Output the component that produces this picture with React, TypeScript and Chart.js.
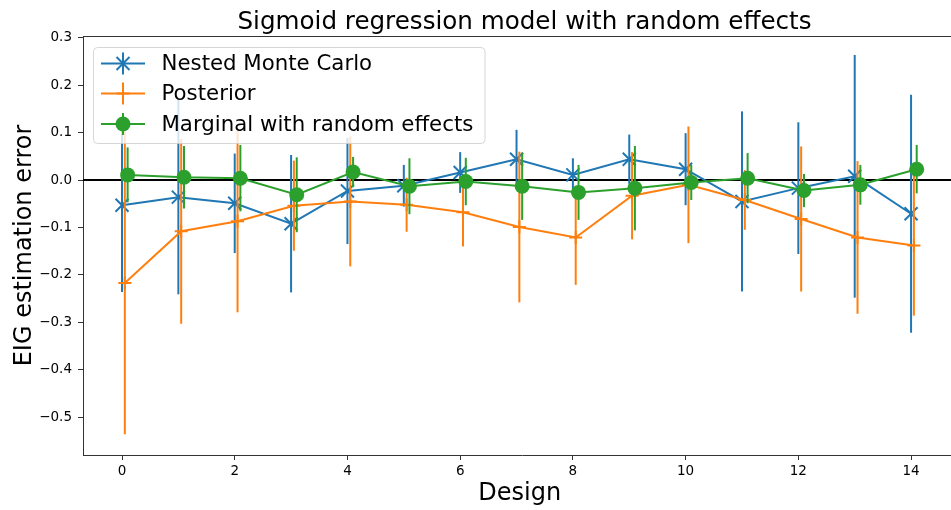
import React, { useEffect, useRef } from "react";
import { Chart, registerables } from "chart.js";

Chart.register(...registerables);

const designs = [0, 1, 2, 3, 4, 5, 6, 7, 8, 9, 10, 11, 12, 13, 14];
const nmcMean = [-0.053, -0.036, -0.049, -0.092, -0.023, -0.012, 0.016, 0.044, 0.011, 0.044, 0.023, -0.045, -0.017, 0.008, -0.071];
const nmcErr = [0.183, 0.205, 0.105, 0.145, 0.112, 0.044, 0.043, 0.062, 0.035, 0.052, 0.076, 0.19, 0.139, 0.256, 0.251];
const postMean = [-0.217, -0.108, -0.087, -0.054, -0.045, -0.052, -0.068, -0.099, -0.121, -0.033, -0.01, -0.042, -0.082, -0.121, -0.138];
const postErr = [0.319, 0.195, 0.192, 0.095, 0.137, 0.057, 0.072, 0.159, 0.1, 0.092, 0.123, 0.063, 0.153, 0.161, 0.148];
const margMean = [0.011, 0.006, 0.004, -0.031, 0.017, -0.013, -0.003, -0.013, -0.026, -0.017, -0.005, 0.004, -0.022, -0.01, 0.023];
const margErr = [0.058, 0.066, 0.07, 0.079, 0.032, 0.059, 0.05, 0.071, 0.058, 0.089, 0.037, 0.053, 0.035, 0.042, 0.051];
const seriesNames = ["Nested Monte Carlo", "Posterior", "Marginal with random effects"];

const TITLE = "Sigmoid regression model with random effects";
const X_LABEL = "Design";
const Y_LABEL = "EIG estimation error";
const FONT = "'DejaVu Sans', sans-serif";
const COLORS = ["#1f77b4", "#ff7f0e", "#2ca02c"];
const OFFSETS = [0, 0.05, 0.1];
const W = 961;
const H = 510;

const means = [nmcMean, postMean, margMean];
const errs = [nmcErr, postErr, margErr];

function drawMarker(ctx: CanvasRenderingContext2D, i: number, x: number, y: number) {
  ctx.save();
  ctx.strokeStyle = COLORS[i];
  ctx.fillStyle = COLORS[i];
  ctx.lineWidth = 2;
  ctx.beginPath();
  if (i === 0) {
    const r = 6.5;
    ctx.moveTo(x - r, y - r);
    ctx.lineTo(x + r, y + r);
    ctx.moveTo(x - r, y + r);
    ctx.lineTo(x + r, y - r);
    ctx.stroke();
  } else if (i === 1) {
    const r = 6.5;
    ctx.moveTo(x - r, y);
    ctx.lineTo(x + r, y);
    ctx.moveTo(x, y - r);
    ctx.lineTo(x, y + r);
    ctx.stroke();
  } else {
    ctx.arc(x, y, 7.5, 0, Math.PI * 2);
    ctx.fill();
  }
  ctx.restore();
}

const decorPlugin = {
  id: "decor",
  beforeDatasetsDraw(chart: any) {
    const { ctx, chartArea, scales } = chart;
    const y0 = scales.y.getPixelForValue(0);
    ctx.save();
    ctx.strokeStyle = "#000";
    ctx.lineWidth = 2;
    ctx.beginPath();
    ctx.moveTo(chartArea.left, y0);
    ctx.lineTo(chartArea.right, y0);
    ctx.stroke();
    ctx.restore();
  },
  beforeDatasetDraw(chart: any, args: any) {
    const { ctx, chartArea, scales } = chart;
    const i = args.index;
    ctx.save();
    ctx.beginPath();
    ctx.rect(chartArea.left, chartArea.top, chartArea.right - chartArea.left, chartArea.bottom - chartArea.top);
    ctx.clip();
    ctx.strokeStyle = COLORS[i];
    ctx.lineWidth = 2;
    designs.forEach((d, k) => {
      const x = scales.x.getPixelForValue(d + OFFSETS[i]);
      const yt = scales.y.getPixelForValue(means[i][k] + errs[i][k]);
      const yb = scales.y.getPixelForValue(means[i][k] - errs[i][k]);
      ctx.beginPath();
      ctx.moveTo(x, yt);
      ctx.lineTo(x, yb);
      ctx.stroke();
    });
    ctx.restore();
  },
  afterDraw(chart: any) {
    const { ctx, chartArea } = chart;
    ctx.save();
    // top spine
    ctx.strokeStyle = "#333";
    ctx.lineWidth = 1;
    ctx.beginPath();
    ctx.moveTo(chartArea.left, chartArea.top + 0.5);
    ctx.lineTo(chartArea.right, chartArea.top + 0.5);
    ctx.stroke();

    ctx.fillStyle = "#000";
    ctx.textAlign = "center";
    ctx.textBaseline = "alphabetic";
    ctx.font = `24.6px ${FONT}`;
    ctx.fillText(TITLE, 524.5, 29);
    ctx.font = `24px ${FONT}`;
    ctx.fillText(X_LABEL, 519.7, 500);
    ctx.save();
    ctx.translate(31, (chartArea.top + chartArea.bottom) / 2);
    ctx.rotate(-Math.PI / 2);
    ctx.fillText(Y_LABEL, 0, 0);
    ctx.restore();

    // legend
    const bx = 93.5, by = 47.5, bw = 391.5, bh = 96, rr = 4;
    ctx.beginPath();
    ctx.moveTo(bx + rr, by);
    ctx.lineTo(bx + bw - rr, by);
    ctx.quadraticCurveTo(bx + bw, by, bx + bw, by + rr);
    ctx.lineTo(bx + bw, by + bh - rr);
    ctx.quadraticCurveTo(bx + bw, by + bh, bx + bw - rr, by + bh);
    ctx.lineTo(bx + rr, by + bh);
    ctx.quadraticCurveTo(bx, by + bh, bx, by + bh - rr);
    ctx.lineTo(bx, by + rr);
    ctx.quadraticCurveTo(bx, by, bx + rr, by);
    ctx.closePath();
    ctx.fillStyle = "rgba(255,255,255,0.8)";
    ctx.fill();
    ctx.strokeStyle = "rgba(204,204,204,0.8)";
    ctx.lineWidth = 1;
    ctx.stroke();

    const rows = [63.5, 93.5, 124];
    seriesNames.forEach((name, i) => {
      const ry = rows[i];
      ctx.strokeStyle = COLORS[i];
      ctx.lineWidth = 2;
      ctx.beginPath();
      ctx.moveTo(101, ry);
      ctx.lineTo(145, ry);
      ctx.moveTo(123, ry - 11);
      ctx.lineTo(123, ry + 11);
      ctx.stroke();
      drawMarker(ctx, i, 123, ry);
      ctx.fillStyle = "#000";
      ctx.textAlign = "left";
      ctx.textBaseline = "middle";
      ctx.font = `21.3px ${FONT}`;
      ctx.fillText(name, 161.5, ry + 1);
    });
    ctx.restore();
  },
};

export default function App() {
  const ref = useRef<HTMLCanvasElement>(null);
  useEffect(() => {
    if (!ref.current) return;
    const mk = (i: number) => ({
      label: seriesNames[i],
      data: designs.map((d, k) => ({ x: d + OFFSETS[i], y: means[i][k] })),
      borderColor: COLORS[i],
      backgroundColor: COLORS[i],
      borderWidth: 2,
      showLine: true,
      pointStyle: i === 0 ? "crossRot" : i === 1 ? "cross" : "circle",
      pointRadius: i === 0 ? 9.2 : i === 1 ? 6.5 : 7.5,
      pointBorderWidth: i === 2 ? 0 : 2,
      pointHoverRadius: 0,
      order: 3 - i,
    });
    const chart = new Chart(ref.current, {
      type: "scatter",
      data: { datasets: [mk(0), mk(1), mk(2)] },
      plugins: [decorPlugin],
      options: {
        animation: false,
        responsive: false,
        events: [],
        layout: { autoPadding: false, padding: { top: 36, left: 0, right: 0, bottom: 0 } },
        plugins: { legend: { display: false }, title: { display: false }, tooltip: { enabled: false } },
        scales: {
          x: {
            type: "linear",
            min: -0.692,
            max: 14.886,
            afterFit: (s: any) => { s.height = 55; s.paddingLeft = 0; s.paddingRight = 0; },
            grid: { drawOnChartArea: false, drawTicks: true, tickLength: 5, tickColor: "#333", tickWidth: 1 },
            border: { display: true, color: "#333", width: 1 },
            ticks: {
              stepSize: 2,
              includeBounds: false,
              color: "#000",
              padding: 3,
              maxRotation: 0,
              font: { family: FONT, size: 13.5 },
              callback: (v: any) => String(Math.round(v)),
            },
          },
          y: {
            type: "linear",
            min: -0.58,
            max: 0.304,
            afterFit: (s: any) => { s.width = 83; s.paddingTop = 0; s.paddingBottom = 0; },
            grid: { drawOnChartArea: false, drawTicks: true, tickLength: 5, tickColor: "#333", tickWidth: 1 },
            border: { display: true, color: "#333", width: 1 },
            ticks: {
              stepSize: 0.1,
              includeBounds: false,
              color: "#000",
              padding: 6,
              font: { family: FONT, size: 13.5 },
              callback: (v: any) => {
                const r = Math.round(v * 10) / 10;
                return (r < 0 ? "\u2212" : "") + Math.abs(r).toFixed(1);
              },
            },
          },
        },
      } as any,
    });
    return () => chart.destroy();
  }, []);
  return (
    <div style={{ position: "absolute", left: 0, top: 0, width: 951, height: H, overflow: "hidden", background: "#fff" }}>
      <div style={{ position: "relative", width: W, height: H }}>
        <canvas ref={ref} width={W} height={H} style={{ width: W, height: H, display: "block" }} />
      </div>
    </div>
  );
}
